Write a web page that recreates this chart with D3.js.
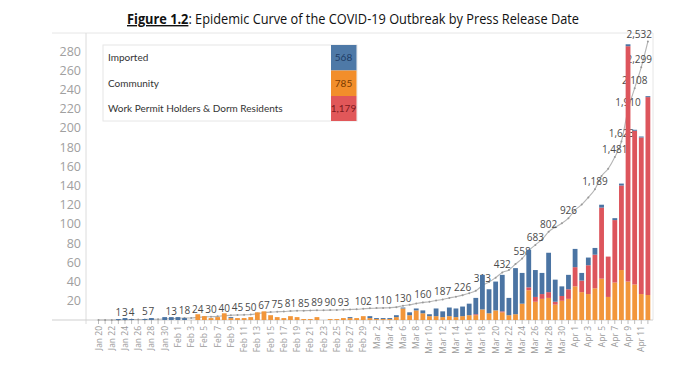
<!DOCTYPE html>
<html><head><meta charset="utf-8">
<script src="https://cdn.jsdelivr.net/npm/d3@7"></script>
<style>body{margin:0;background:#fff}svg{display:block}</style>
</head><body>
<svg id="c" width="690" height="371"></svg>
<script>
// ---- DATA ----
const dates = [
 "Jan 20","Jan 21","Jan 22","Jan 23","Jan 24","Jan 25","Jan 26","Jan 27","Jan 28","Jan 29","Jan 30","Jan 31",
 "Feb 1","Feb 2","Feb 3","Feb 4","Feb 5","Feb 6","Feb 7","Feb 8","Feb 9","Feb 10","Feb 11","Feb 12","Feb 13","Feb 14","Feb 15","Feb 16","Feb 17","Feb 18","Feb 19","Feb 20","Feb 21","Feb 22","Feb 23","Feb 24","Feb 25","Feb 26","Feb 27","Feb 28","Feb 29",
 "Mar 1","Mar 2","Mar 3","Mar 4","Mar 5","Mar 6","Mar 7","Mar 8","Mar 9","Mar 10","Mar 11","Mar 12","Mar 13","Mar 14","Mar 15","Mar 16","Mar 17","Mar 18","Mar 19","Mar 20","Mar 21","Mar 22","Mar 23","Mar 24","Mar 25","Mar 26","Mar 27","Mar 28","Mar 29","Mar 30","Mar 31",
 "Apr 1","Apr 2","Apr 3","Apr 4","Apr 5","Apr 6","Apr 7","Apr 8","Apr 9","Apr 10","Apr 11","Apr 12"];

const imported = [
 0,0,0,1,2,1,0,1,2,0,3,3,
 3,2,0,0,0,0,0,0,1,0,0,0,0,0,0,0,0,0,0,0,0,0,0,0,0,0,1,0,0,
 2,1,1,1,2,1,3,2,3,2,8,6,9,9,10,12,17,36,25,30,38,18,48,32,39,28,22,41,23,10,15,
 19,8,8,7,3,0,2,2,2,1,1,1];

const community = [
 0,0,0,0,0,0,0,0,0,0,0,0,
 0,0,0,6,4,2,3,7,2,2,2,3,8,9,5,3,2,4,3,1,1,3,0,1,1,2,2,2,4,
 2,1,1,1,3,12,5,10,7,4,4,3,4,3,4,5,5,11,7,10,8,5,6,17,31,19,22,23,16,20,22,
 35,29,27,33,43,24,39,52,40,37,27,26];

const workPermit = [
 0,0,0,0,0,0,0,0,0,0,0,0,
 0,0,0,0,0,0,0,0,0,0,0,0,0,0,0,0,0,0,0,0,0,0,0,0,0,0,0,0,0,
 0,0,0,0,0,0,0,0,0,0,0,0,0,0,0,0,1,0,0,0,1,0,0,0,3,5,5,6,3,5,10,
 20,12,30,35,74,42,65,88,245,160,163,206];

const seriesNames = ["Imported","Community","Work Permit Holders & Dorm Residents"];
const yTicks = [20,40,60,80,100,120,140,160,180,200,220,240,260,280];
const cumLabelDates = ["Jan 23","Jan 24","Jan 25","Jan 27","Jan 28","Jan 31","Feb 2","Feb 4","Feb 6","Feb 8","Feb 10","Feb 12","Feb 14","Feb 16","Feb 18","Feb 20","Feb 22","Feb 24","Feb 26","Feb 29","Mar 3","Mar 6","Mar 9","Mar 12","Mar 15","Mar 18","Mar 21","Mar 24","Mar 26","Mar 28","Mar 31","Apr 4","Apr 7","Apr 8","Apr 9","Apr 10","Apr 11","Apr 12"];

// ---- SETUP ----
const svg = d3.select("#c");
const font = "'Open Sans', Lato, sans-serif";
const colors = {imp:"#4b74a3", com:"#f2963a", wp:"#dd555c"};
const parse = d3.utcParse("%b %d %Y");
const D = dates.map(s => parse(s + " 2020"));
const L = 86, R = 653, T = 33, B = 320;

const x = d3.scaleUtc().domain([D[0], D[D.length-1]]).range([98.5, 647.9]);
const y = d3.scaleLinear().domain([0, 280]).range([B, 51]);
const totals = dates.map((d,i) => imported[i] + community[i] + workPermit[i]);
const cum = Array.from(d3.cumsum(totals));
const yc = d3.scaleLinear().domain([0, cum[cum.length-1]]).range([B, 41.5]);

// Title
const title = svg.append("text").attr("x", 127).attr("y", 24)
  .attr("font-family", font).attr("font-size", 14).attr("fill", "#111")
  .attr("textLength", 452).attr("lengthAdjust", "spacingAndGlyphs");
title.append("tspan").attr("font-weight", "bold").attr("text-decoration", "underline").text("Figure 1.2");
title.append("tspan").text(": Epidemic Curve of the COVID-19 Outbreak by Press Release Date");

// Frame
svg.append("line").attr("x1", 52).attr("x2", R).attr("y1", T).attr("y2", T).attr("stroke", "#e6e6e6");
svg.append("line").attr("x1", R).attr("x2", R).attr("y1", T).attr("y2", B).attr("stroke", "#e6e6e6");
svg.append("line").attr("x1", L).attr("x2", L).attr("y1", T).attr("y2", B + 4).attr("stroke", "#dcdcdc");
svg.append("line").attr("x1", 52).attr("x2", R).attr("y1", B).attr("y2", B).attr("stroke", "#cfcfcf");

// Y axis
const ya = svg.append("g").attr("transform", `translate(${L},0)`)
  .call(d3.axisLeft(y).tickValues(yTicks).tickSize(0).tickPadding(5));
ya.select(".domain").remove();
ya.selectAll("text").attr("font-family", font).attr("font-size", 12.5).attr("fill", "#a0a0a0");

// X ticks + labels
svg.append("g").selectAll("line").data(D).join("line")
  .attr("x1", d => x(d)).attr("x2", d => x(d)).attr("y1", B).attr("y2", B + 4)
  .attr("stroke", "#bdbdbd");
const fmt = d3.utcFormat("%b %-d");
svg.append("g").selectAll("text").data(D.filter((d,i) => i % 2 === 0)).join("text")
  .attr("transform", d => `translate(${x(d) + 3},${B + 6}) rotate(-90)`)
  .attr("text-anchor", "end")
  .attr("font-family", font).attr("font-size", 8.5).attr("fill", "#9a9a9a")
  .text(d => fmt(d));

// Cumulative line + labels
const line = d3.line().x((v,i) => x(D[i])).y(v => yc(v)).curve(d3.curveMonotoneX);
svg.append("path").attr("d", line(cum)).attr("fill", "none").attr("stroke", "#b5b5b5").attr("stroke-width", 1.1);
svg.append("g").selectAll("circle").data(cum).join("circle")
  .attr("cx", (v,i) => x(D[i])).attr("cy", v => yc(v)).attr("r", 1).attr("fill", "#9a9a9a");
const fmtN = d3.format(",");
const labG = svg.append("g");
cumLabelDates.forEach(s => {
  const i = dates.indexOf(s);
  const t = labG.append("text").attr("y", yc(cum[i]) - 4)
    .attr("font-family", font).attr("font-size", 10).attr("fill", "#4a4a4a")
    .attr("text-anchor", "middle").text(fmtN(cum[i]));
  const w = t.node().getComputedTextLength();
  let cx = x(D[i]);
  if (cx + w / 2 > R - 1) cx = R - 1 - w / 2;
  t.attr("x", cx);
});

// Stacked bars: community (bottom), work permit, imported (top)
const bw = 4.8;
const barG = svg.append("g");
dates.forEach((s, i) => {
  const cx = x(D[i]);
  let base = 0;
  [[community[i], colors.com], [workPermit[i], colors.wp], [imported[i], colors.imp]].forEach(([v, c]) => {
    if (v > 0) {
      barG.append("rect").attr("x", cx - bw / 2).attr("width", bw)
        .attr("y", y(base + v)).attr("height", y(base) - y(base + v)).attr("fill", c);
    }
    base += v;
  });
});

// Legend
const lg = svg.append("g");
lg.append("rect").attr("x", 103).attr("y", 45).attr("width", 254).attr("height", 76)
  .attr("fill", "#fff").attr("stroke", "#e6e6e6");
const legTotals = [d3.sum(imported), d3.sum(community), d3.sum(workPermit)];
const legColors = ["#4e79a7", "#f28e2b", "#e15759"];
const legText = ["#1e3c66", "#7a3b00", "#7d1a1e"];
const rowsY = [45, 70.5, 96, 121];
seriesNames.forEach((n, k) => {
  lg.append("rect").attr("x", 331).attr("y", rowsY[k]).attr("width", 25.5)
    .attr("height", rowsY[k+1] - rowsY[k]).attr("fill", legColors[k]);
  const cy = (rowsY[k] + rowsY[k+1]) / 2;
  lg.append("text").attr("x", 108).attr("y", cy + 3.5)
    .attr("font-family", "Lato, sans-serif").attr("font-size", 10).attr("fill", "#333").text(n);
  lg.append("text").attr("x", 343.5).attr("y", cy + 3.5).attr("text-anchor", "middle")
    .attr("font-family", "Lato, sans-serif").attr("font-size", 10).attr("fill", legText[k]).text(fmtN(legTotals[k]));
});
</script>
</body></html>
